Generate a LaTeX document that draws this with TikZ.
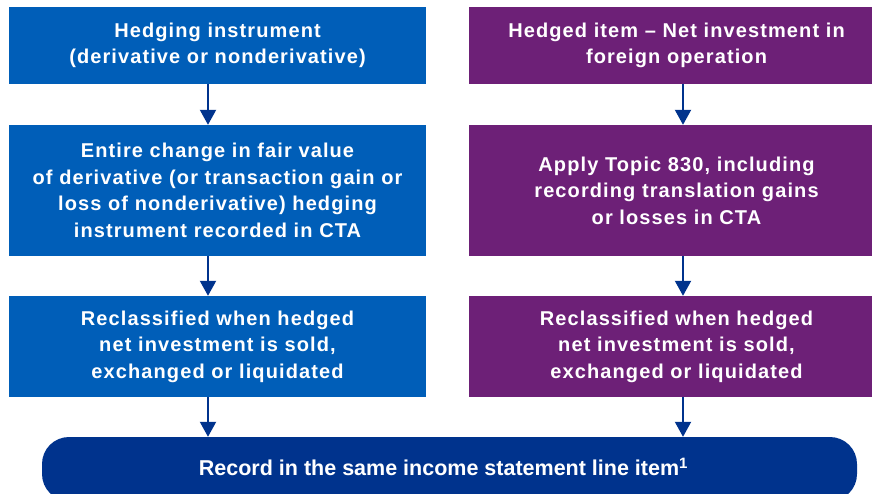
\documentclass[tikz,border=0pt]{standalone}
\usepackage{fontspec}
\setmainfont{Liberation Sans}
\newfontfamily\boxfont{Liberation Sans}[LetterSpace=5.5]
\usetikzlibrary{arrows.meta}
\definecolor{kblue}{HTML}{005EB8}
\definecolor{kpurple}{HTML}{6D2077}
\definecolor{kdark}{HTML}{00338D}
\begin{document}
\begin{tikzpicture}[x=1pt,y=-1pt,
  boxl/.style={fill=kblue, text=white, inner sep=0pt, minimum width=417pt, text width=405pt, align=center,
    font=\boxfont\bfseries\fontsize{20pt}{26.5pt}\selectfont},
  boxr/.style={boxl, fill=kpurple, minimum width=415pt},
  arr/.style={draw=kdark, line width=2pt, -{Triangle[width=16pt,length=15pt]}}]
\useasboundingbox (0,0) rectangle (872,493);
\clip (0,0) rectangle (872,493);
% left column
\node[boxl, minimum height=77pt] (l1) at (217.5,45.5) {Hedging instrument\\(derivative or nonderivative)};
\node[boxl, minimum height=131pt] (l2) at (217.5,190.5) {Entire change in fair value\\of derivative (or transaction gain or\\loss of nonderivative) hedging\\instrument recorded in CTA};
\node[boxl, minimum height=101pt] (l3) at (217.5,346.5) {Reclassified when hedged\\net investment is sold,\\exchanged or liquidated};
% right column
\node[boxr, minimum height=77pt] (r1) at (676.5,45.5) {Hedged item – Net investment in\\foreign operation};
\node[boxr, minimum height=131pt] (r2) at (676.5,190.5) {Apply Topic 830, including\\recording translation gains\\or losses in CTA};
\node[boxr, minimum height=101pt] (r3) at (676.5,346.5) {Reclassified when hedged\\net investment is sold,\\exchanged or liquidated};
% bottom
\node[fill=kdark, text=white, rounded corners=27pt, inner sep=0pt, minimum width=815pt, minimum height=64pt,
  font=\bfseries\fontsize{21.5pt}{24pt}\selectfont] (b) at (449.5,469)
  {\raisebox{4pt}{Record in the same income statement line item\textsuperscript{1}}\hspace*{12pt}};
% arrow columns
\coordinate (lx) at (208,0);
\coordinate (rx) at (683,0);
\draw[arr] (l1.south -| lx) -- (l2.north -| lx);
\draw[arr] (l2.south -| lx) -- (l3.north -| lx);
\draw[arr] (l3.south -| lx) -- (b.north -| lx);
\draw[arr] (r1.south -| rx) -- (r2.north -| rx);
\draw[arr] (r2.south -| rx) -- (r3.north -| rx);
\draw[arr] (r3.south -| rx) -- (b.north -| rx);
\end{tikzpicture}
\end{document}
